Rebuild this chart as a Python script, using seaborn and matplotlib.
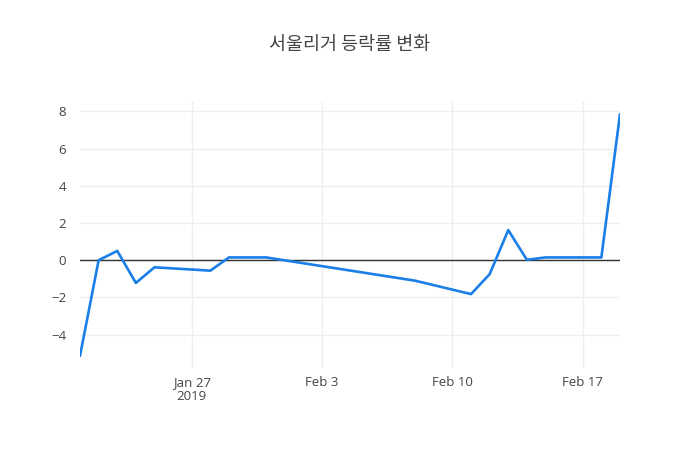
import numpy as np
import pandas as pd
import matplotlib
matplotlib.use("Agg")
import matplotlib.pyplot as plt
import matplotlib.dates as mdates
import seaborn as sns

# values
dates = ["2019-01-21", "2019-01-22", "2019-01-23", "2019-01-24", "2019-01-25",
         "2019-01-28", "2019-01-29", "2019-01-31", "2019-02-08", "2019-02-11",
         "2019-02-12", "2019-02-13", "2019-02-14", "2019-02-15", "2019-02-18",
         "2019-02-19"]
rates = [-5.14, 0.0, 0.5, -1.22, -0.38,
         -0.56, 0.15, 0.15, -1.1, -1.82,
         -0.75, 1.62, 0.02, 0.15, 0.15,
         7.85]
title = "서울리거 등락률 변화"

df = pd.DataFrame({"date": pd.to_datetime(dates), "rate": rates})

sns.set_style("white")
plt.rcParams["font.family"] = ["Open Sans", "Noto Sans CJK KR", "DejaVu Sans"]

fig = plt.figure(figsize=(7, 4.5), dpi=100)
ax = fig.add_axes([80 / 700, (450 - 368) / 450, 540 / 700, 266 / 450])

ax.axhline(0, color="#333333", lw=1, zorder=1)
sns.lineplot(data=df, x="date", y="rate", color="#1a7fe6", lw=1.9, ax=ax, zorder=3)

ax.set_xlim(pd.Timestamp("2019-01-21"), pd.Timestamp("2019-02-19"))
ax.set_ylim(-5.79, 8.5)
ax.set_yticks([-4, -2, 0, 2, 4, 6, 8])
ax.set_yticklabels(["−4", "−2", "0", "2", "4", "6", "8"])

ticks = pd.to_datetime(["2019-01-27", "2019-02-03", "2019-02-10", "2019-02-17"])
ax.set_xticks(ticks)
ax.set_xticklabels(["Jan 27\n2019", "Feb 3", "Feb 10", "Feb 17"])

ax.grid(True, color="#eeeeee", lw=1, zorder=0)
for s in ax.spines.values():
    s.set_visible(False)
ax.tick_params(axis="both", length=0, labelsize=9.5, colors="#444444")
ax.tick_params(axis="x", pad=6)
ax.tick_params(axis="y", pad=10)
for lbl in ax.get_xticklabels():
    lbl.set_va("top")
    lbl.set_linespacing(1.1)
ax.set_xlabel("")
ax.set_ylabel("")

fig.text(350 / 700, 1 - 45 / 450, title, ha="center", va="center",
         fontsize=13.3, color="#444444", family=["Noto Sans CJK KR", "DejaVu Sans"])

fig.savefig("out.png", dpi=100, facecolor="white")
